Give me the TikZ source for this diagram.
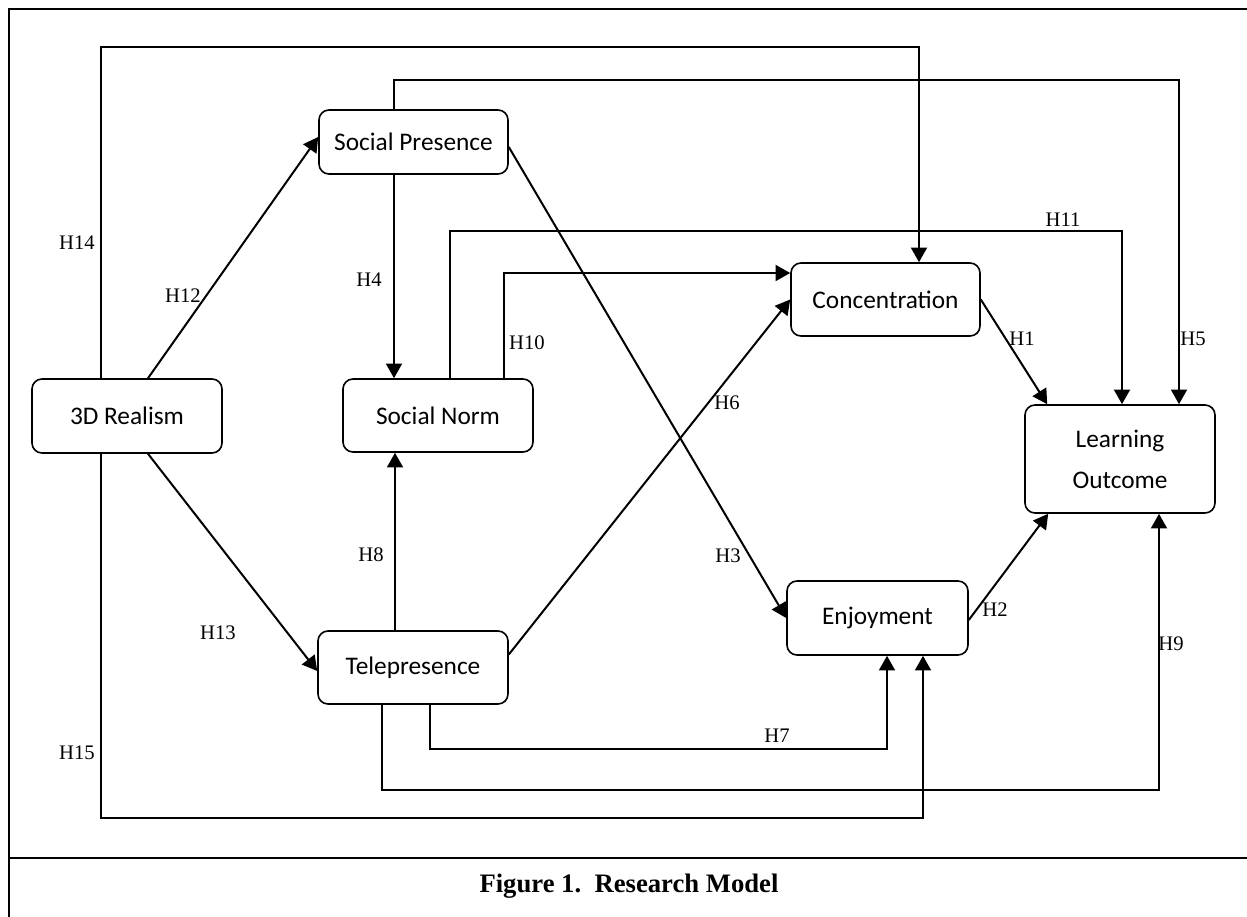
\documentclass[tikz,border=0pt]{standalone}
\usepackage{fontspec}
\setmainfont{Liberation Serif}
\newfontfamily\boxfont{Carlito}
\usetikzlibrary{arrows.meta,calc}
\tikzset{
  box/.style={draw, line width=1.2pt, rounded corners=7.5pt, inner sep=0pt,
    font=\boxfont\fontsize{19}{30.75}\selectfont, align=center},
  conn/.style={line width=1.5pt},
  arr/.style={conn, -{Triangle[length=11pt,width=12pt]}},
  hlab/.style={font=\fontsize{15.5}{18}\selectfont, inner sep=0pt},
  frame/.style={line width=1.6pt}
}
\begin{document}
\begin{tikzpicture}[x=0.75pt,y=-0.75pt]
\useasboundingbox (0,0) rectangle (1247,917);
% frame
\draw[frame] (9,920) -- (9,9) -- (1250,9);
\draw[frame] (9,858) -- (1250,858);
\node[font=\bfseries\fontsize{20}{24}\selectfont] (cap) at (629,886) {Figure 1.\ \ Research Model};

% nodes
\node[box, minimum width=142.5pt, minimum height=55.5pt] (real) at (127,416) {3D Realism};
\node[box, minimum width=141.75pt, minimum height=48pt] (sp) at (413.5,142) {Social Presence};
\node[box, minimum width=142.5pt, minimum height=54.75pt] (sn) at (438,415.5) {Social Norm};
\node[box, minimum width=142.5pt, minimum height=54.75pt] (tp) at (413,667.5) {Telepresence};
\node[box, minimum width=141.75pt, minimum height=54.75pt] (con) at (885.5,299.5) {Concentration};
\node[box, minimum width=135.75pt, minimum height=55.5pt] (enj) at (877.5,618) {Enjoyment};
\node[box, minimum width=142.5pt, minimum height=81pt] (lo) at (1120,459) {Learning\\Outcome};

% bend coordinates
\coordinate (h14a) at (101,47);  \coordinate (h14b) at (919,47);
\coordinate (h5a) at (394,80);   \coordinate (h5b) at (1179,80);
\coordinate (h11a) at (450,231); \coordinate (h11b) at (1122,231);
\coordinate (h10a) at (504,273);
\coordinate (h15a) at (101,818); \coordinate (h15b) at (923,818);
\coordinate (h7a) at (430,749);  \coordinate (h7b) at (887,749);
\coordinate (h9a) at (382,790);  \coordinate (h9b) at (1159,790);
\coordinate (h4) at (394,0);     \coordinate (h8) at (395,0);
\coordinate (h12s) at (148,0);   \coordinate (h12t) at (0,137);
\coordinate (h13t) at (0,671);

% connectors
\draw[arr] (real.north -| h14a) -- (h14a) -- (h14b) -- (con.north -| h14b);
\draw[arr] (sp.north -| h5a) -- (h5a) -- (h5b) -- (lo.north -| h5b);
\draw[arr] (sn.north -| h11a) -- (h11a) -- (h11b) -- (lo.north -| h11b);
\draw[arr] (sn.north -| h10a) -- (h10a) -- (h10a -| con.west);
\draw[arr] (real.south -| h15a) -- (h15a) -- (h15b) -- (enj.south -| h15b);
\draw[arr] (tp.south -| h7a) -- (h7a) -- (h7b) -- (enj.south -| h7b);
\draw[arr] (tp.south -| h9a) -- (h9a) -- (h9b) -- (lo.south -| h9b);
\draw[arr] (sp.south -| h4) -- (sn.north -| h4);
\draw[arr] (tp.north -| h8) -- (sn.south -| h8);
\draw[arr] (real.north -| h12s) -- (sp.west |- h12t);
\draw[arr] (real.south -| h12s) -- (tp.west |- h13t);
\draw[arr] ($(tp.east)+(0,-13)$) -- (con.west);
\draw[arr] ($(sp.east)+(0,5)$) -- (enj.west);
\draw[arr] (con.east) -- ($(lo.north west)+(23,0)$);
\draw[arr] ($(enj.east)+(0,2)$) -- ($(lo.south west)+(24,0)$);

% labels
\node[hlab] (l14) at (77,243) {H14};
\node[hlab] (l15) at (77,753) {H15};
\node[hlab] (l12) at (183,296) {H12};
\node[hlab] (l13) at (218,633) {H13};
\node[hlab] (l4) at (369,280) {H4};
\node[hlab] (l8) at (371,555) {H8};
\node[hlab] (l10) at (527,343) {H10};
\node[hlab] (l11) at (1063,220) {H11};
\node[hlab] (l6) at (727,403) {H6};
\node[hlab] (l3) at (728,556) {H3};
\node[hlab] (l1) at (1022,339) {H1};
\node[hlab] (l5) at (1193,339) {H5};
\node[hlab] (l2) at (995,610) {H2};
\node[hlab] (l9) at (1171,644) {H9};
\node[hlab] (l7) at (777,736) {H7};
\end{tikzpicture}
\end{document}
